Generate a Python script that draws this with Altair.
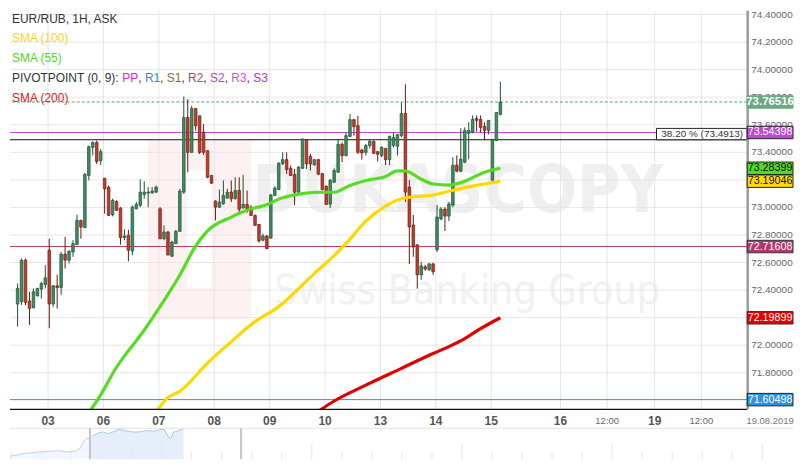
import altair as alt
import pandas as pd

# ---------------- data ----------------
candle_open = [
    72.299, 72.316, 72.617, 72.321, 72.272, 72.359, 72.407, 72.441, 72.689, 72.299,
    72.431, 72.419, 72.661, 72.617, 72.677, 72.730, 72.906, 72.853, 73.232, 73.436,
    73.472, 73.340, 73.212, 73.147, 72.947, 73.044, 72.995, 72.781, 72.798, 72.684,
    72.990, 73.015, 73.094, 73.104, 73.106, 73.111, 72.990, 72.773, 72.822, 72.646,
    72.737, 72.827, 73.111, 73.653, 73.400, 73.718, 73.665, 73.545, 73.412, 73.232,
    73.046, 73.002, 73.026, 73.068, 73.111, 73.063, 73.123, 72.997, 73.022, 73.002,
    72.942, 72.877, 72.762, 72.793, 72.778, 73.087, 73.130, 73.316, 73.347, 73.284,
    73.239, 73.111, 73.284, 73.492, 73.371, 73.308, 73.347, 73.246, 73.154, 73.024,
    73.183, 73.256, 73.458, 73.376, 73.516, 73.637, 73.593, 73.417, 73.400, 73.449,
    73.480, 73.405, 73.376, 73.429, 73.347, 73.449, 73.444, 73.521, 73.682, 73.147,
    72.872, 72.728, 72.511, 72.569, 72.547, 72.590, 72.692, 72.916, 72.988, 72.937,
    73.017, 73.306, 73.263, 73.328, 73.538, 73.545, 73.646, 73.639, 73.588, 73.559,
    73.198, 73.487, 73.675]
candle_high = [
    72.448, 72.629, 72.629, 72.388, 72.412, 72.417, 72.460, 72.581, 72.773, 72.436,
    72.511, 72.677, 72.786, 72.689, 72.762, 72.947, 72.911, 73.250, 73.449, 73.478,
    73.485, 73.424, 73.212, 73.159, 73.063, 73.051, 73.002, 72.841, 72.838, 73.015,
    73.039, 73.203, 73.190, 73.147, 73.147, 73.159, 73.002, 72.870, 72.829, 72.757,
    72.836, 73.135, 73.805, 73.786, 73.738, 73.718, 73.665, 73.605, 73.412, 73.232,
    73.051, 73.130, 73.196, 73.135, 73.196, 73.219, 73.219, 73.236, 73.123, 73.015,
    72.948, 72.879, 72.809, 72.798, 73.096, 73.154, 73.328, 73.400, 73.400, 73.304,
    73.279, 73.299, 73.501, 73.496, 73.388, 73.350, 73.350, 73.250, 73.159, 73.207,
    73.284, 73.496, 73.472, 73.545, 73.677, 73.641, 73.665, 73.424, 73.460, 73.496,
    73.485, 73.407, 73.444, 73.429, 73.521, 73.545, 73.532, 73.762, 73.894, 73.198,
    72.945, 72.735, 72.605, 72.583, 72.598, 72.598, 73.017, 73.002, 73.002, 73.039,
    73.364, 73.378, 73.574, 73.581, 73.617, 73.668, 73.668, 73.668, 73.617, 73.632,
    73.494, 73.689, 73.913]
candle_low = [
    72.135, 72.292, 72.292, 72.147, 72.267, 72.352, 72.339, 72.412, 72.123, 72.279,
    72.265, 72.366, 72.556, 72.593, 72.641, 72.726, 72.773, 72.851, 73.196, 73.376,
    73.316, 73.308, 72.954, 72.937, 72.935, 72.974, 72.730, 72.762, 72.610, 72.653,
    72.986, 73.002, 73.063, 73.002, 73.100, 73.104, 72.768, 72.762, 72.653, 72.641,
    72.735, 72.822, 73.099, 73.256, 73.395, 73.557, 73.388, 73.381, 73.212, 73.171,
    72.906, 72.995, 73.019, 73.063, 73.039, 73.058, 72.966, 72.990, 72.961, 72.937,
    72.865, 72.744, 72.754, 72.697, 72.771, 73.082, 73.125, 73.308, 73.243, 73.227,
    73.017, 73.099, 73.279, 73.279, 73.268, 73.306, 73.234, 73.125, 73.017, 72.995,
    73.178, 73.250, 73.328, 73.371, 73.509, 73.521, 73.388, 73.347, 73.376, 73.429,
    73.388, 73.333, 73.364, 73.308, 73.308, 73.436, 73.376, 73.509, 73.039, 72.590,
    72.641, 72.410, 72.475, 72.540, 72.540, 72.511, 72.677, 72.908, 72.829, 72.901,
    73.002, 73.256, 73.256, 73.321, 73.350, 73.538, 73.552, 73.545, 73.487, 73.530,
    73.183, 73.480, 73.668]
candle_close = [
    72.412, 72.617, 72.311, 72.267, 72.388, 72.412, 72.448, 72.489, 72.299, 72.431,
    72.419, 72.661, 72.617, 72.682, 72.737, 72.906, 72.858, 73.239, 73.441, 73.472,
    73.333, 73.405, 73.135, 72.942, 73.051, 72.979, 72.781, 72.793, 72.689, 73.002,
    73.022, 73.111, 73.111, 73.111, 73.118, 73.147, 72.773, 72.822, 72.655, 72.749,
    72.827, 73.118, 73.653, 73.400, 73.718, 73.593, 73.400, 73.400, 73.219, 73.176,
    73.002, 73.039, 73.087, 73.111, 73.063, 73.123, 72.986, 73.022, 72.990, 72.942,
    72.870, 72.757, 72.793, 72.701, 73.091, 73.140, 73.321, 73.347, 73.275, 73.232,
    73.111, 73.292, 73.496, 73.316, 73.316, 73.347, 73.241, 73.130, 73.022, 73.196,
    73.268, 73.458, 73.376, 73.521, 73.637, 73.586, 73.400, 73.395, 73.449, 73.480,
    73.393, 73.386, 73.436, 73.347, 73.516, 73.509, 73.528, 73.682, 73.111, 72.858,
    72.713, 72.511, 72.576, 72.554, 72.590, 72.533, 72.930, 72.988, 72.937, 73.024,
    73.306, 73.263, 73.350, 73.559, 73.559, 73.639, 73.632, 73.581, 73.559, 73.632,
    73.494, 73.689, 73.765]

sma55_idx = [17, 21, 25, 28, 31, 36, 41, 45, 48, 54, 59, 62, 67, 72, 76, 80, 84, 88, 93, 96, 98, 100, 102, 105, 109, 113, 118, 122]
sma55_val = [71.47, 71.64, 71.84, 71.96, 72.07, 72.28, 72.51, 72.72, 72.83, 72.93, 72.99, 73.01, 73.07, 73.10, 73.11, 73.11,
             73.16, 73.195, 73.225, 73.265, 73.265, 73.24, 73.205, 73.17, 73.162, 73.19, 73.256, 73.284]
sma100_idx = [34, 38, 41, 48, 54, 60, 66, 71, 75, 80, 84, 88, 93, 98, 105, 110, 116, 122]
sma100_val = [71.47, 71.62, 71.665, 71.87, 72.026, 72.171, 72.28, 72.41, 72.52, 72.65, 72.77, 72.90, 73.01, 73.07, 73.09,
              73.125, 73.16, 73.19]
sma200_idx = [74, 80, 88, 97, 105, 109, 113, 117, 122]
sma200_val = [71.48, 71.595, 71.71, 71.832, 71.94, 71.99, 72.048, 72.12, 72.199]

tick_pos = [7.7, 21.7, 35.7, 49.7, 63.7, 77.7, 91.7, 105.7, 119.7, 137.2, 149.0, 161.0, 172.8]
tick_lab = ["03", "06", "07", "08", "09", "10", "13", "14", "15", "16", "12:00", "19", "12:00"]
grid_levels = [71.8, 72.0, 72.2, 72.4, 72.6, 72.8, 73.0, 73.2, 73.4, 73.6, 73.8, 74.0, 74.2, 74.4]
# labels that are not hidden behind a price tag in the reference
label_levels = [71.8, 72.0, 72.4, 72.6, 72.8, 73.0, 73.4, 73.6, 73.8, 74.0, 74.2, 74.4]
label_texts = ["71.80000", "72.00000", "72.40000", "72.60000", "72.80000", "73.00000",
               "73.40000", "73.60000", "73.80000", "74.00000", "74.20000", "74.40000"]

tag_values = [73.76516, 73.54398, 73.28399, 73.19046, 72.71608, 72.19899, 71.60498]
tag_text = ["73.76516", "73.54398", "73.28399", "73.19046", "72.71608", "72.19899", "71.60498"]
tag_fill = ["#6aa983", "#c445d8", "#4cdc22", "#ffd900", "#b3376a", "#e00000", "#2b92e4"]
tag_textc = ["#ffffff", "#ffffff", "#111111", "#111111", "#ffffff", "#ffffff", "#ffffff"]
tag_stroke = ["#6aa983", "#222222", "#222222", "#222222", "#333333", "#333333", "#222222"]

last_price = 73.76516
pivot_s2 = 73.54398
pivot_r2 = 72.71608
pivot_r1 = 71.60498
fib_level = 73.4913

nav_t = [0, 7, 13, 20, 30, 40, 50, 58, 67, 72, 75, 78, 82, 85, 90, 95, 100, 105, 113, 117, 122, 127, 133, 140, 147, 153,
         158, 162, 165, 168, 173, 178]
nav_v = [3.7, 5.3, 7.0, 8.0, 9.3, 10.0, 11.0, 9.3, 10.3, 14.0, 22.0, 27.0, 27.0, 30.3, 33.7, 35.3, 33.0, 35.0, 39.0, 37.0,
         36.0, 35.0, 35.3, 37.0, 36.0, 38.0, 39.0, 29.3, 27.0, 35.3, 37.0, 39.3]
nav_short_ticks = [1.5, 32.3, 63.1, 93.9, 124.7, 186.3, 217.1, 247.9, 278.7, 340.3, 371.1, 401.9, 432.7, 494.3, 525.1,
                   555.9, 586.7, 648.3, 679.1, 709.9, 740.7]
nav_tall_ticks = [155.5, 309.5, 463.5, 617.5, 771.5]
nav_handles = [82, 237]

# ---------------- layout helpers ----------------
W, H = 740, 400
SX = W / 748.0
FONT = "Liberation Sans, Arial, sans-serif"
NARROW = "Liberation Sans Narrow, DejaVu Sans Condensed, Liberation Sans, sans-serif"

xs = alt.Scale(domain=[-0.6634, 183.12], nice=False, zero=False)
ys = alt.Scale(domain=[71.5345, 74.4268], nice=False, zero=False)

one = pd.DataFrame({"k": [0]})


def rx(v):
    return v * SX


def ry(v):
    return v - 8.0


def txt(s, x, y, size=12, color="#333333", weight="normal", align="left", font=FONT, baseline="middle"):
    return alt.Chart(one).mark_text(text=s, font=font, fontSize=size, color=color, fontWeight=weight,
                                    align=align, baseline=baseline).encode(x=alt.value(x), y=alt.value(y))


def box(x1, x2, y1, y2, fill, stroke=None, sw=1.0):
    kw = dict(fill=fill)
    if stroke:
        kw.update(stroke=stroke, strokeWidth=sw)
    return alt.Chart(one).mark_rect(**kw).encode(x=alt.value(x1), x2=alt.value(x2), y=alt.value(y1), y2=alt.value(y2))


def hline(val, color, dash=None, width=1.0):
    kw = dict(color=color, strokeWidth=width)
    if dash:
        kw["strokeDash"] = dash
    return alt.Chart(pd.DataFrame({"p": [val]})).mark_rule(**kw).encode(y=alt.Y("p:Q", scale=ys, axis=None))


def sma(idx, vals, color):
    return alt.Chart(pd.DataFrame({"i": idx, "v": vals})).mark_line(
        color=color, strokeWidth=3.2, interpolate="monotone", clip=True).encode(
        x=alt.X("i:Q", scale=xs, axis=None), y=alt.Y("v:Q", scale=ys, axis=None))


# ---------------- main panel ----------------
df = pd.DataFrame({"i": list(range(len(candle_open))), "o": candle_open, "h": candle_high,
                   "l": candle_low, "c": candle_close})
up = alt.datum.c >= alt.datum.o

watermark = [
    box(rx(140), rx(245), ry(138), ry(318), "#fdf1f1"),
    box(rx(180), rx(205), ry(168), ry(286), "#ffffff"),
    txt("DUKASCOPY", rx(268) - 22, ry(210), size=66, color="#efefef", weight="bold", font=NARROW,
        baseline="alphabetic"),
    txt("Swiss Banking Group", rx(268), ry(302), size=41, color="#f1f1f1", font=NARROW, baseline="alphabetic"),
]

grid_h = alt.Chart(pd.DataFrame({"p": grid_levels})).mark_rule(color="#e6e6e6", strokeWidth=1).encode(
    y=alt.Y("p:Q", scale=ys, axis=None))
axis_text = alt.Chart(pd.DataFrame({"p": label_levels, "lab": label_texts})).mark_text(
    font=FONT, fontSize=10, color="#666666", align="left", baseline="middle").encode(
    x=alt.value(744), y=alt.Y("p:Q", scale=ys, axis=None), text="lab:N")
axis_line = alt.Chart(one).mark_rule(color="#9b9b9b", strokeWidth=2.5).encode(
    x=alt.value(W + 0.5), y=alt.value(0), y2=alt.value(H))

ticks_df = pd.DataFrame({"t": tick_pos, "lab": tick_lab})
grid_v = alt.Chart(ticks_df).mark_rule(color="#e6e6e6", strokeWidth=1).encode(x=alt.X("t:Q", scale=xs, axis=None))

wicks = alt.Chart(df).mark_rule(strokeWidth=1).encode(
    x=alt.X("i:Q", scale=xs, axis=None), y=alt.Y("l:Q", scale=ys, axis=None), y2="h:Q",
    color=alt.condition(up, alt.value("#1e5134"), alt.value("#5f1b12")))
bodies = alt.Chart(df).mark_bar(size=2.6, strokeWidth=0.7).encode(
    x=alt.X("i:Q", scale=xs, axis=None), y=alt.Y("o:Q", scale=ys, axis=None), y2="c:Q",
    fill=alt.condition(up, alt.value("#3f8d60"), alt.value("#c53b2b")),
    stroke=alt.condition(up, alt.value("#1e5134"), alt.value("#6a1d13")))

tags = pd.DataFrame({"p": tag_values, "txt": tag_text, "fill": tag_fill, "tc": tag_textc, "st": tag_stroke})
BOX = "M-1,-0.272L1,-0.272L1,0.272L-1,0.272Z"
tag_boxes = alt.Chart(tags).mark_point(shape=BOX, size=46 * 46, filled=True, opacity=1, strokeWidth=1).encode(
    x=alt.value(763), y=alt.Y("p:Q", scale=ys, axis=None),
    fill=alt.Fill("fill:N", scale=None), stroke=alt.Stroke("st:N", scale=None))
tag_first = alt.Chart(tags.iloc[:1]).mark_text(font=FONT, fontSize=11.5, fontWeight="bold", baseline="middle",
                                               align="center").encode(
    x=alt.value(763), y=alt.Y("p:Q", scale=ys, axis=None), text="txt:N", color=alt.Color("tc:N", scale=None))
tag_rest = alt.Chart(tags.iloc[1:]).mark_text(font=FONT, fontSize=10.8, baseline="middle", align="center").encode(
    x=alt.value(763), y=alt.Y("p:Q", scale=ys, axis=None), text="txt:N", color=alt.Color("tc:N", scale=None))

days_df = ticks_df[ticks_df["lab"] != "12:00"]
hours_df = ticks_df[ticks_df["lab"] == "12:00"]
xlab_days = alt.Chart(days_df).mark_text(font=FONT, fontSize=12, fontWeight="bold", color="#555555",
                                         baseline="middle").encode(
    x=alt.X("t:Q", scale=xs, axis=None), y=alt.value(ry(420)), text="lab:N")
xlab_hours = alt.Chart(hours_df).mark_text(font=FONT, fontSize=9.5, color="#666666", baseline="middle").encode(
    x=alt.X("t:Q", scale=xs, axis=None), y=alt.value(ry(420)), text="lab:N")

bottom_line = alt.Chart(one).mark_rule(color="#111111", strokeWidth=1.2).encode(
    x=alt.value(0), x2=alt.value(W), y=alt.value(H))

# legend (top-left)
piv_labels = ["PP", "R1", "S1", "R2", "S2", "R3", "S3"]
piv_colors = ["#e020c8", "#2a8de0", "#8b6d3a", "#b8406a", "#c43ad8", "#cc55e0", "#a03ae0"]
LX = 2.0
piv_x = [110.7, 133.4, 155.4, 176.8, 198.8, 220.2, 242.2]
piv_w = [16.0, 15.3, 14.7, 15.3, 14.7, 15.3, 14.7]
legend = [
    txt("EUR/RUB, 1H, ASK", LX, ry(16), color="#333333"),
    txt("SMA (100)", LX, ry(35.5), color="#ffd21a"),
    txt("SMA (55)", LX, ry(55), color="#4fd82a"),
    txt("PIVOTPOINT (0, 9): ", LX, ry(75.3), color="#333333"),
    txt("SMA (200)", LX, ry(95.3), color="#e82020"),
]
for k, (lab, col, px, pw) in enumerate(zip(piv_labels, piv_colors, piv_x, piv_w)):
    legend.append(txt(lab, LX + px, ry(75.3), color=col))
    if k < len(piv_labels) - 1:
        legend.append(txt(",", LX + px + pw, ry(75.3), color="#333333"))

fib_box = [
    box(rx(656), W, ry(126), ry(137.4), "#ffffff", stroke="#222222", sw=1),
    txt("38.20 % (73.4913)", W - 4, ry(132), size=10, color="#333333", align="right"),
]

main = alt.layer(
    *watermark,
    grid_h, grid_v, axis_text,
    hline(pivot_r2, "#b3376a"), hline(pivot_r1, "#2b92e4"),
    hline(fib_level, "#111111"), hline(pivot_s2, "#c445d8"),
    hline(last_price, "#5a9e74", dash=[3, 2]),
    *fib_box,
    wicks, bodies,
    sma(sma200_idx, sma200_val, "#e00000"),
    sma(sma100_idx, sma100_val, "#ffd800"),
    sma(sma55_idx, sma55_val, "#55dd22"),
    bottom_line, axis_line,
    tag_boxes, tag_first, tag_rest,
    xlab_days, xlab_hours,
    txt("19.08.2019", 763, ry(420), size=9.5, color="#777777", align="center"),
    *legend,
)

# ---------------- navigator strip ----------------
nxs = alt.Scale(domain=[0, 803], range=[0, 786], nice=False, zero=False)
nys = alt.Scale(domain=[0, 40], range=[450, 419], nice=False, zero=False)
nav_df = pd.DataFrame({"t": nav_t, "v": nav_v})

nav_a = alt.Chart(nav_df).transform_filter("datum.t <= 82").mark_area(
    color="#eef4fd", line={"color": "#bcd3f5", "strokeWidth": 1}).encode(
    x=alt.X("t:Q", scale=nxs, axis=None), y=alt.Y("v:Q", scale=nys, axis=None))
nav_b = alt.Chart(nav_df).transform_filter("datum.t >= 82").mark_area(
    color="#dbe7fa", line={"color": "#a6c6f2", "strokeWidth": 1}).encode(
    x=alt.X("t:Q", scale=nxs, axis=None), y=alt.Y("v:Q", scale=nys, axis=None))
nav_border = alt.Chart(pd.DataFrame({"t0": [0], "t1": [803], "v": [40]})).mark_rule(color="#e2e2e2").encode(
    x=alt.X("t0:Q", scale=nxs, axis=None), x2="t1:Q", y=alt.Y("v:Q", scale=nys, axis=None))
ticks_nav = pd.DataFrame({"t": nav_short_ticks + nav_tall_ticks,
                          "v0": [0] * (len(nav_short_ticks) + len(nav_tall_ticks)),
                          "v1": [9] * len(nav_short_ticks) + [20] * len(nav_tall_ticks)})
nav_ticks = alt.Chart(ticks_nav).mark_rule(color="#e4e4e4").encode(
    x=alt.X("t:Q", scale=nxs, axis=None), y=alt.Y("v0:Q", scale=nys, axis=None), y2="v1:Q")
nav_h = alt.Chart(pd.DataFrame({"t": nav_handles, "v0": [0, 0], "v1": [40, 40]})).mark_rule(
    color="#c4c4c4", strokeWidth=2).encode(
    x=alt.X("t:Q", scale=nxs, axis=None), y=alt.Y("v0:Q", scale=nys, axis=None), y2="v1:Q")

nav = alt.layer(nav_ticks, nav_a, nav_b, nav_border, nav_h)

chart = alt.layer(main, nav).resolve_scale(x="independent", y="independent").properties(
    width=W, height=H, padding=0).configure_view(stroke=None)

chart.save("out.html", embed_options={"renderer": "svg", "actions": False})
